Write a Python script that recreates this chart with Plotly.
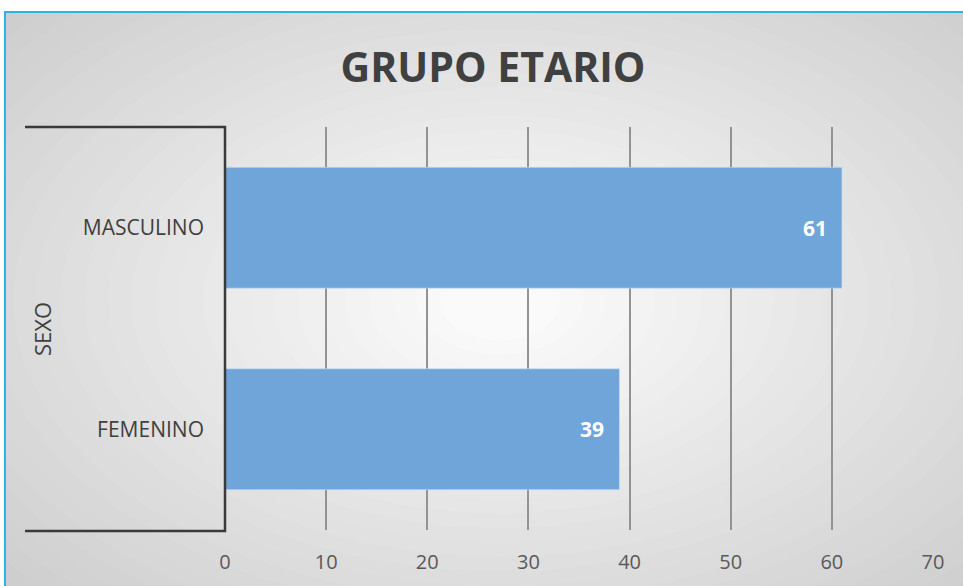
import plotly.graph_objects as go

categories = ["MASCULINO", "FEMENINO"]
values = [61, 39]
x_ticks = [0, 10, 20, 30, 40, 50, 60, 70]
title_text = "GRUPO ETARIO"
group_label = "SEXO"

W, H = 963, 586
L, R, T, B = 225, 30, 127, 56
PW, PH = W - L - R, H - T - B


def px(x):
    return (x - L) / PW


def py(y):
    return 1 - (y - T) / PH


shapes = []
shapes.append(dict(type="rect", xref="paper", yref="paper", x0=px(5), x1=px(990),
                   y0=py(12), y1=py(620), fillcolor="#cdcdcd", line_width=0, layer="below"))
n = 28
cx, cy = 500, 300
for i in range(n):
    f = i / (n - 1)
    rx = 700 * (1 - f) + 60 * f
    ry = 430 * (1 - f) + 40 * f
    c = int(205 + (250 - 205) * f)
    shapes.append(dict(type="circle", xref="paper", yref="paper",
                       x0=px(cx - rx), x1=px(cx + rx), y0=py(cy + ry), y1=py(cy - ry),
                       fillcolor=f"rgb({c},{c},{c})", line_width=0, layer="below"))
shapes.append(dict(type="rect", xref="paper", yref="paper", x0=px(-50), x1=px(1100),
                   y0=py(12), y1=py(-50), fillcolor="white", line_width=0, layer="below"))
shapes.append(dict(type="rect", xref="paper", yref="paper", x0=px(-50), x1=px(5),
                   y0=py(700), y1=py(-50), fillcolor="white", line_width=0, layer="below"))
shapes.append(dict(type="rect", xref="paper", yref="paper", x0=px(5), x1=px(1000),
                   y0=py(12), y1=py(700), line=dict(color="#2bb3ea", width=2),
                   fillcolor="rgba(0,0,0,0)", layer="above"))
shapes.append(dict(type="path", xref="paper", yref="paper",
                   path=f"M {px(25)},{py(127)} L {px(225)},{py(127)} L {px(225)},{py(531)} L {px(25)},{py(531)}",
                   line=dict(color="#3a3a3a", width=2.5), layer="above"))

fig = go.Figure(go.Bar(
    x=values, y=categories, orientation="h",
    marker=dict(color="#6fa5d8", line=dict(color="rgba(200,225,250,0.6)", width=1)),
    hoverinfo="x+y",
))

annotations = [dict(text=group_label, xref="paper", yref="paper", x=px(42), y=py(329),
                    textangle=-90, showarrow=False, xanchor="center", yanchor="middle",
                    font=dict(family="Open Sans", size=22, color="#404040"))]
for cat, v in zip(categories, values):
    annotations.append(dict(text=f"<b>{v}</b>", x=v, y=cat, xref="x", yref="y",
                            xanchor="right", yanchor="middle", xshift=-13, showarrow=False,
                            font=dict(family="Open Sans", size=21, color="white")))

fig.update_layout(
    width=W, height=H,
    margin=dict(l=L, r=R, t=T, b=B),
    paper_bgcolor="white", plot_bgcolor="rgba(0,0,0,0)",
    bargap=0.4,
    showlegend=False,
    shapes=shapes,
    annotations=annotations,
    title=dict(text=title_text, x=px(493), xanchor="center", xref="paper",
               y=1 - 68 / H, yanchor="middle",
               font=dict(family="Open Sans", size=41, color="#404040", weight="bold")),
    xaxis=dict(range=[0, 70], tickvals=x_ticks, showgrid=True, gridcolor="#939393",
               gridwidth=1.5, zeroline=False, showline=False, ticks="",
               ticklabelstandoff=18,
               tickfont=dict(family="Open Sans", size=20, color="#595959")),
    yaxis=dict(autorange="reversed", showgrid=False, zeroline=False, showline=False,
               ticks="", ticklabelstandoff=20,
               tickfont=dict(family="Open Sans", size=21, color="#404040")),
)

fig.write_html("out.html", config={"displayModeBar": False},
               post_script="document.body.style.margin='0';")
